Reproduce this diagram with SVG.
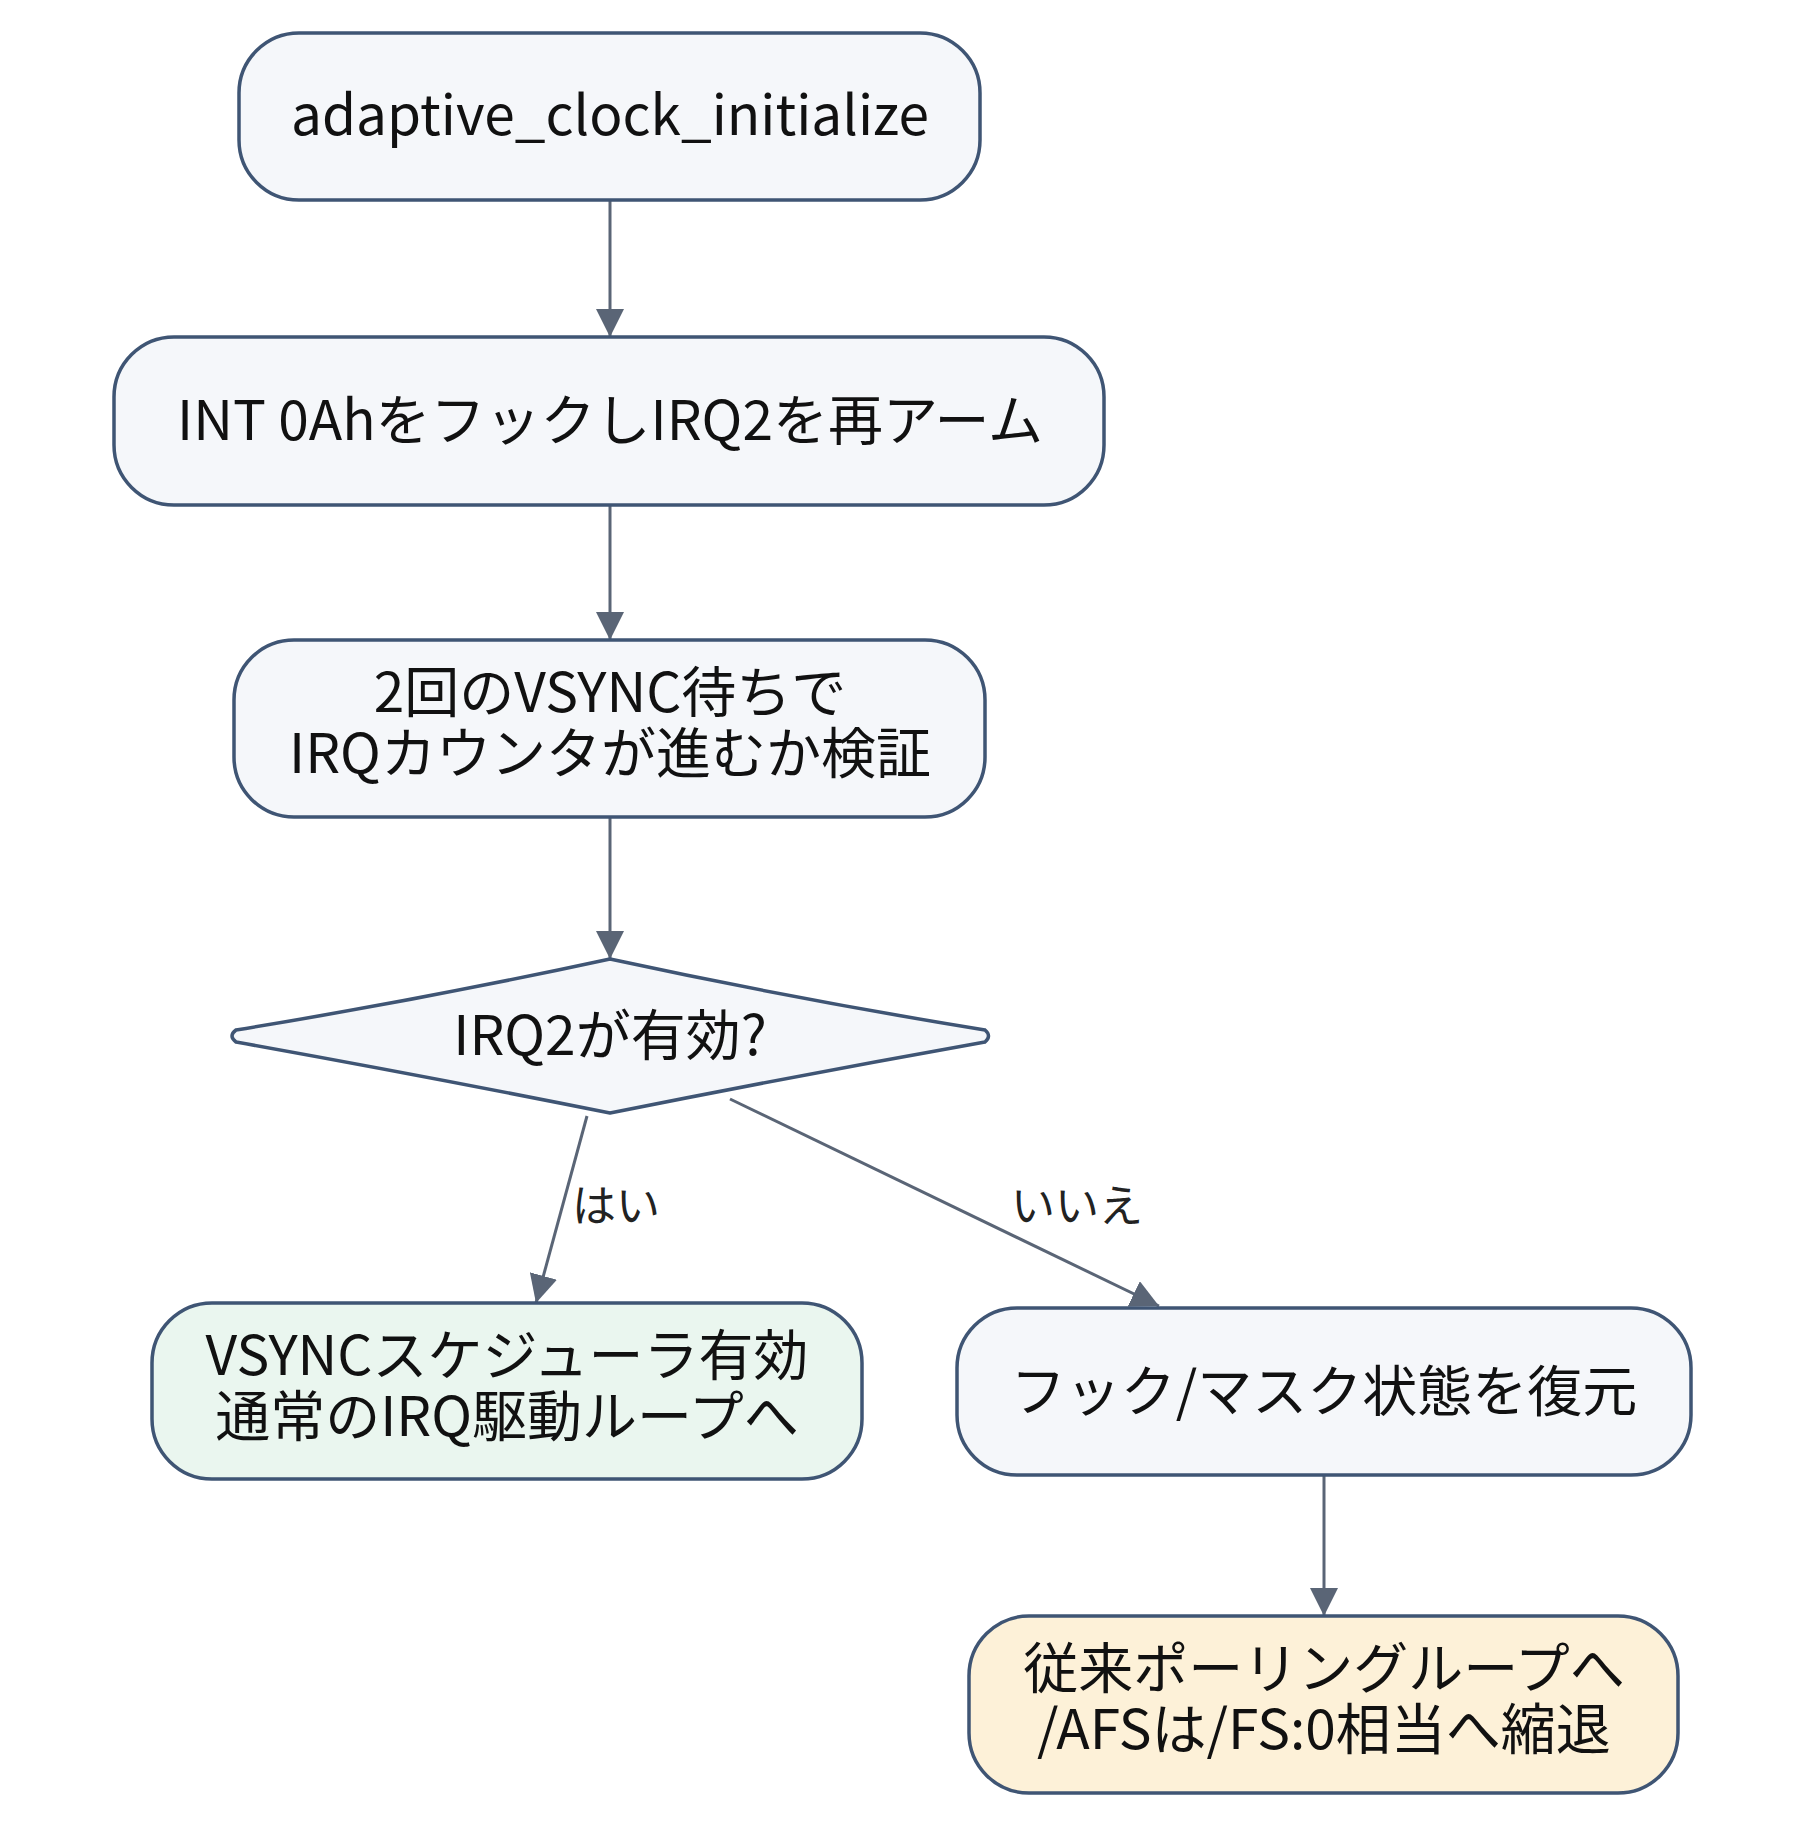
<svg xmlns="http://www.w3.org/2000/svg" width="1800" height="1838" viewBox="0 0 1800 1838">
<style>
.n{fill:#f5f7fa;stroke:#3f5574;stroke-width:3.5}
.t{font-family:"Noto Sans CJK JP","Noto Sans",sans-serif;font-size:55px;fill:#111;text-anchor:middle}
.l{font-family:"Noto Sans CJK JP","Noto Sans",sans-serif;font-size:44px;fill:#222;text-anchor:middle}
.e{stroke:#5a6576;stroke-width:3;fill:none;marker-end:url(#b)}
</style>
<defs>
<marker id="b" viewBox="0 0 10 10" refX="10" refY="5" markerWidth="28" markerHeight="28" markerUnits="userSpaceOnUse" orient="auto"><path d="M0,0L10,5L0,10z" fill="#5a6576"/></marker></defs>
<rect width="1800" height="1838" fill="#fff"/>
<g id="edges">
<line class="e" x1="610" y1="200" x2="610" y2="337"/>
<line class="e" x1="610" y1="505" x2="610" y2="640"/>
<line class="e" x1="610" y1="817" x2="610" y2="959"/>
<line class="e" x1="587" y1="1116" x2="536" y2="1303"/>
<line class="e" x1="730" y1="1099" x2="1159" y2="1306"/>
<line class="e" x1="1324" y1="1475" x2="1324" y2="1616"/>
<text class="l" x="616" y="1222">はい</text>
<text class="l" x="1077" y="1222">いいえ</text>
</g>
<g id="n1"><rect class="n" x="239" y="33" width="741" height="167" rx="60"/><text class="t" x="610" y="135">adaptive_clock_initialize</text></g>
<g id="n2"><rect class="n" x="114" y="337" width="990" height="168" rx="60"/><text class="t" x="610" y="440">INT 0AhをフックしIRQ2を再アーム</text></g>
<g id="n3"><rect class="n" x="234" y="640" width="751" height="177" rx="60"/><text class="t" x="610" y="712">2回のVSYNC待ちで</text><text class="t" x="610" y="773">IRQカウンタが進むか検証</text></g>
<g id="d"><path class="n" d="M610,959 Q800,1000 985,1030 Q992,1036 985,1042 Q800,1075 610,1113 Q420,1075 236,1042 Q228,1036 236,1030 Q420,1000 610,959Z"/><text class="t" x="610" y="1055">IRQ2が有効?</text></g>
<g id="yes"><rect class="n" style="fill:#eaf6ef" x="152" y="1303" width="710" height="176" rx="60"/><text class="t" x="507" y="1375">VSYNCスケジューラ有効</text><text class="t" x="507" y="1436">通常のIRQ駆動ループへ</text></g>
<g id="no"><rect class="n" x="957" y="1308" width="734" height="167" rx="60"/><text class="t" x="1324" y="1411">フック/マスク状態を復元</text></g>
<g id="fin"><rect class="n" style="fill:#fdf1d8" x="969" y="1616" width="709" height="177" rx="60"/><text class="t" x="1324" y="1688">従来ポーリングループへ</text><text class="t" x="1324" y="1749">/AFSは/FS:0相当へ縮退</text></g>
</svg>
